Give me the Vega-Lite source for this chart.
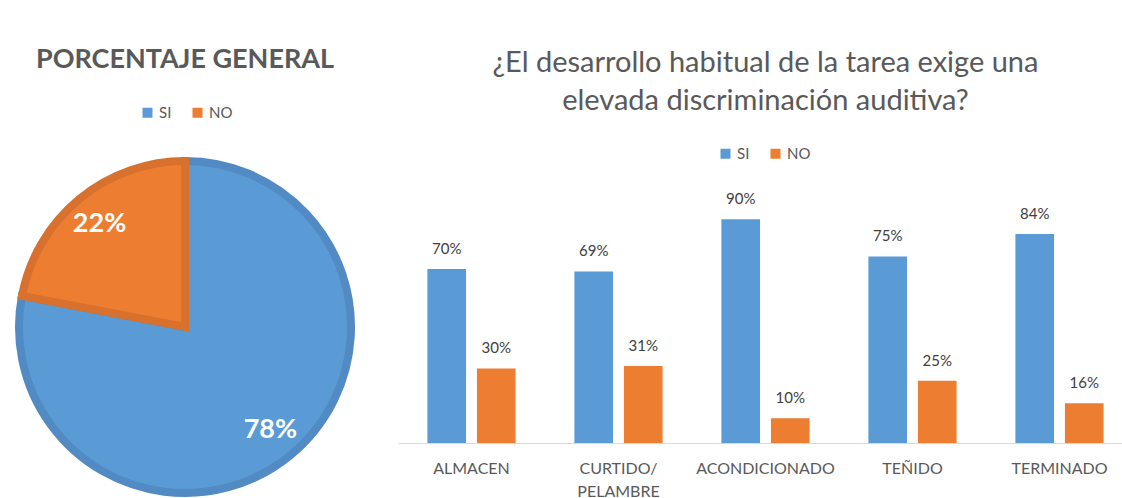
{
  "$schema": "https://vega.github.io/schema/vega-lite/v6.json",
  "padding": {"left": 3, "top": 46, "right": 0, "bottom": 0},
  "background": "white",
  "config": {
    "view": {"stroke": null},
    "font": "Lato",
    "legend": {
      "symbolType": "square",
      "symbolSize": 100,
      "symbolStrokeWidth": 0,
      "labelFontSize": 15,
      "labelColor": "#595959",
      "labelOffset": 4,
      "columnPadding": 18,
      "direction": "horizontal",
      "orient": "none",
      "title": null
    }
  },
  "bounds": "flush",
  "spacing": 43,
  "resolve": {"scale": {"color": "independent", "stroke": "independent"}},
  "hconcat": [
    {
      "width": 340,
      "height": 340,
      "title": {
        "text": "PORCENTAJE GENERAL",
        "fontSize": 27,
        "fontWeight": "bold",
        "color": "#595959",
        "offset": 31,
        "anchor": "middle"
      },
      "data": {"values": [
        {"resp": "SI", "pct": 0.78},
        {"resp": "NO", "pct": 0.22}
      ]},
      "encoding": {
        "theta": {"field": "pct", "type": "quantitative", "stack": true},
        "order": {"field": "resp", "sort": "descending"}
      },
      "layer": [
        {
          "mark": {"type": "arc", "outerRadius": 166, "strokeWidth": 8, "strokeJoin": "miter"},
          "encoding": {
            "color": {
              "field": "resp", "type": "nominal",
              "scale": {"domain": ["SI", "NO"], "range": ["#5b9bd5", "#ed7d31"]},
              "legend": {"legendX": 125, "legendY": -52}
            },
            "stroke": {
              "field": "resp", "type": "nominal",
              "scale": {"domain": ["SI", "NO"], "range": ["#528bc3", "#d7712d"]},
              "legend": null
            }
          }
        },
        {
          "mark": {"type": "text", "radius": 134, "fontSize": 27, "fontWeight": "bold", "color": "white"},
          "encoding": {
            "text": {"field": "pct", "type": "quantitative", "format": ".0%"}
          }
        }
      ]
    },
    {
      "width": 735,
      "height": 286,
      "title": {
        "text": ["¿El desarrollo habitual de la tarea exige una", "elevada discriminación auditiva?"],
        "fontSize": 29,
        "fontWeight": "normal",
        "color": "#595959",
        "lineHeight": 38,
        "offset": 30,
        "anchor": "middle"
      },
      "data": {"values": [
        {"cat": "ALMACEN", "resp": "SI", "pct": 0.70},
        {"cat": "ALMACEN", "resp": "NO", "pct": 0.30},
        {"cat": "CURTIDO/PELAMBRE", "resp": "SI", "pct": 0.69},
        {"cat": "CURTIDO/PELAMBRE", "resp": "NO", "pct": 0.31},
        {"cat": "ACONDICIONADO", "resp": "SI", "pct": 0.90},
        {"cat": "ACONDICIONADO", "resp": "NO", "pct": 0.10},
        {"cat": "TEÑIDO", "resp": "SI", "pct": 0.75},
        {"cat": "TEÑIDO", "resp": "NO", "pct": 0.25},
        {"cat": "TERMINADO", "resp": "SI", "pct": 0.84},
        {"cat": "TERMINADO", "resp": "NO", "pct": 0.16}
      ]},
      "encoding": {
        "x": {
          "field": "cat", "type": "nominal",
          "sort": ["ALMACEN", "CURTIDO/PELAMBRE", "ACONDICIONADO", "TEÑIDO", "TERMINADO"],
          "scale": {"paddingInner": 0.4, "paddingOuter": 0.2},
          "axis": {
            "title": null,
            "labelAngle": 0,
            "ticks": false,
            "domainColor": "#d9d9d9",
            "domainWidth": 1,
            "labelFontSize": 16,
            "labelColor": "#595959",
            "labelPadding": 17,
            "labelLineHeight": 23,
            "labelExpr": "datum.label == 'CURTIDO/PELAMBRE' ? ['CURTIDO/', 'PELAMBRE'] : datum.label"
          }
        },
        "xOffset": {
          "field": "resp", "type": "nominal",
          "sort": ["SI", "NO"],
          "scale": {"paddingInner": 0.22, "paddingOuter": 0}
        },
        "y": {
          "field": "pct", "type": "quantitative",
          "scale": {"domain": [0, 1.15]},
          "axis": null
        }
      },
      "layer": [
        {
          "mark": {"type": "bar"},
          "encoding": {
            "color": {
              "field": "resp", "type": "nominal",
              "scale": {"domain": ["SI", "NO"], "range": ["#5b9bd5", "#ed7d31"]},
              "legend": {"legendX": 320, "legendY": -11}
            }
          }
        },
        {
          "mark": {"type": "text", "baseline": "alphabetic", "dy": -15, "fontSize": 15, "color": "#404040"},
          "encoding": {
            "text": {"field": "pct", "type": "quantitative", "format": ".0%"}
          }
        }
      ]
    }
  ]
}
